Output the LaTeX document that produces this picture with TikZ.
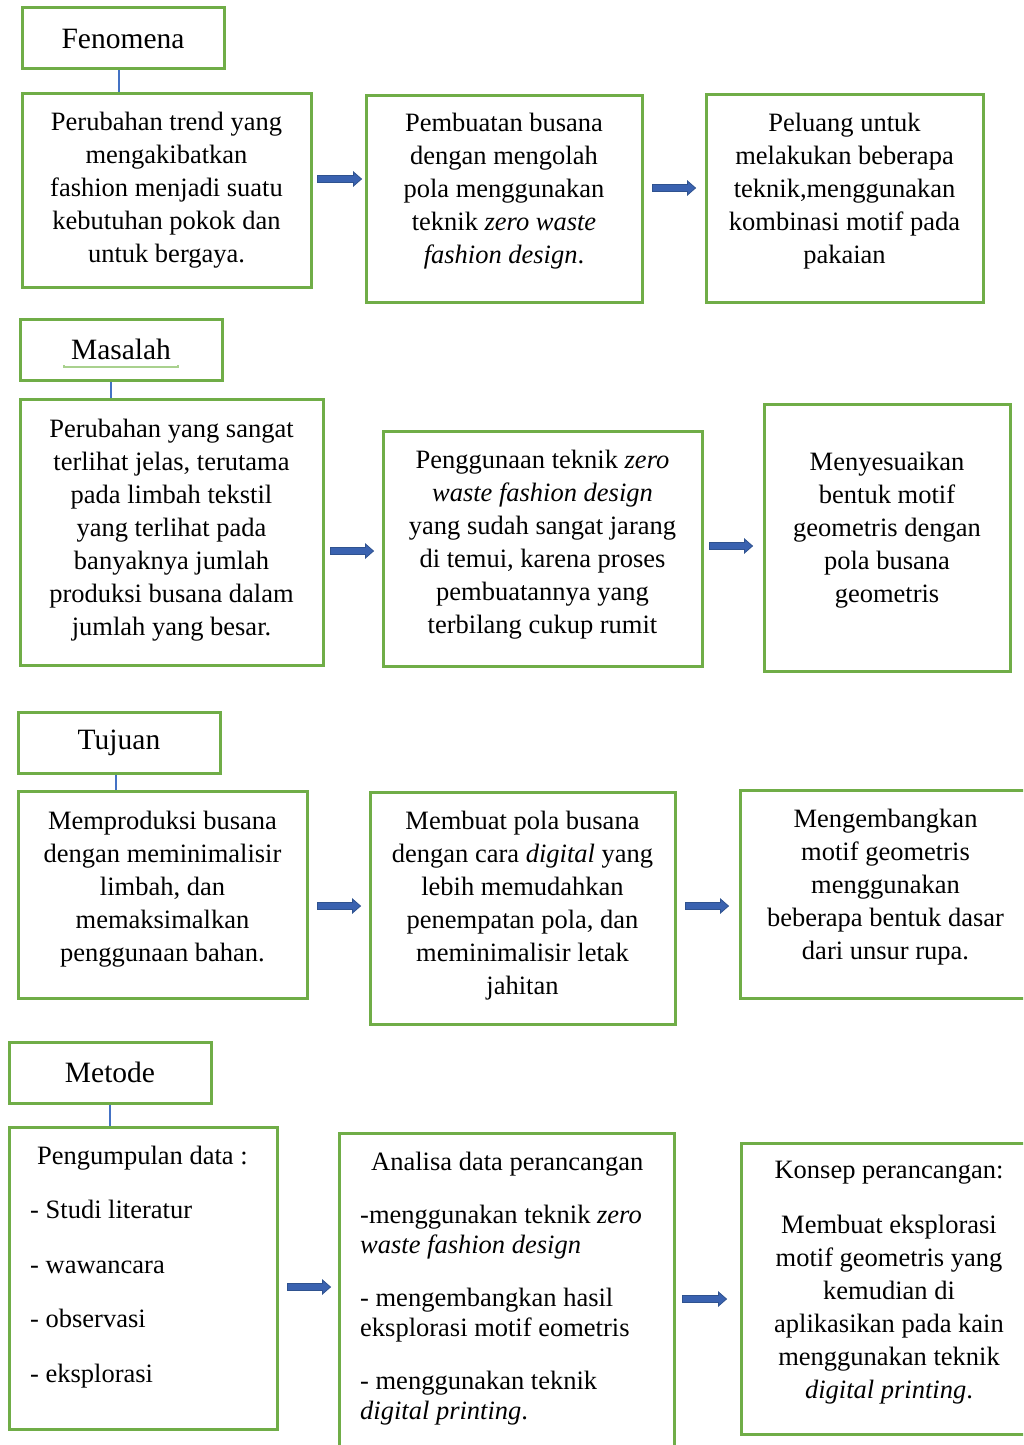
\documentclass[tikz,border=0pt]{standalone}
\usepackage{fontspec}
\setmainfont{Liberation Serif}
\usetikzlibrary{calc}
\definecolor{boxgreen}{HTML}{70AD47}
\definecolor{linkblue}{HTML}{4472C4}
\definecolor{arrfill}{HTML}{3A62B0}
\definecolor{arrdraw}{HTML}{2F528F}
\definecolor{ulgreen}{HTML}{A9D18E}
\tikzset{
  box/.style={draw=boxgreen, line width=3pt, rectangle, inner sep=0pt},
  txt/.style={font=\fontsize{26.5}{33}\selectfont, align=center, inner sep=0pt},
  head/.style={font=\fontsize{29.5}{35}\selectfont, inner sep=0pt},
  conn/.style={draw=linkblue, line width=1.2pt},
  blockarr/.style={fill=arrfill, draw=arrdraw, line width=0.8pt,
    to path={let \p1=(\tikztostart), \p2=(\tikztotarget) in
      (\x1,\y1+3.5pt) -- (\x2-8pt,\y1+3.5pt) -- (\x2-8pt,\y1+7pt) -- (\x2,\y1)
      -- (\x2-8pt,\y1-7pt) -- (\x2-8pt,\y1-3.5pt) -- (\x1,\y1-3.5pt) -- cycle}}
}
\begin{document}
\begin{tikzpicture}[x=1pt,y=-1pt]
\useasboundingbox (0,0) rectangle (1023,1445);
\fill[white] (0,0) rectangle (1023,1445);
\clip (0,0) rectangle (1023,1445);

% ---------- Fenomena ----------
\node[box, minimum width=202, minimum height=61] (fen) at (123,38.5) {};
\node[head] (fent) at (123,38.5) {Fenomena};
\node[box, minimum width=289, minimum height=194] (f1) at (166.5,190) {};
\node[box, minimum width=276, minimum height=207] (f2) at (504,198.5) {};
\node[box, minimum width=277, minimum height=208] (f3) at (844.5,198) {};
\node[txt] (f1t) at (166.5,190) {Perubahan trend yang\\ mengakibatkan\\ fashion menjadi suatu\\ kebutuhan pokok dan\\ untuk bergaya.};
\node[txt] (f2t) at (504,191.5) {Pembuatan busana\\ dengan mengolah\\ pola menggunakan\\ teknik \textit{zero waste}\\ \textit{fashion design}.};
\node[txt] (f3t) at (844.5,191.5) {Peluang untuk\\ melakukan beberapa\\ teknik,menggunakan\\ kombinasi motif pada\\ pakaian};
\draw[conn] ([xshift=-4pt]fen.south) -- ([xshift=-4pt]fen.south |- f1.north);
\path[blockarr] ([xshift=5pt,yshift=11pt]f1.east) to ([xshift=-3pt,yshift=11pt]f2.west);
\path[blockarr] ([xshift=9pt,yshift=10.5pt]f2.east) to ([xshift=-9pt,yshift=10.5pt]f3.west);

% ---------- Masalah ----------
\node[box, minimum width=202, minimum height=61] (mas) at (121,349.5) {};
\node[head] (mast) at (121,349.5) {Masalah};
\draw[ulgreen, line width=1.3pt] (64,365) -- (64,367) -- (178,367) -- (178,365);
\node[box, minimum width=303, minimum height=266] (m1) at (171.5,532) {};
\node[box, minimum width=319, minimum height=235] (m2) at (542.5,548.5) {};
\node[box, minimum width=246, minimum height=267] (m3) at (887,537.5) {};
\node[txt] (m1t) at (171.5,530) {Perubahan yang sangat\\ terlihat jelas, terutama\\ pada limbah tekstil\\ yang terlihat pada\\ banyaknya jumlah\\ produksi busana dalam\\ jumlah yang besar.};
\node[txt] (m2t) at (542.5,545) {Penggunaan teknik \textit{zero}\\ \textit{waste fashion design}\\ yang sudah sangat jarang\\ di temui, karena proses\\ pembuatannya yang\\ terbilang cukup rumit};
\node[txt] (m3t) at (887,530.5) {Menyesuaikan\\ bentuk motif\\ geometris dengan\\ pola busana\\ geometris};
\draw[conn] ([xshift=-10pt]mas.south) -- ([xshift=-10pt]mas.south |- m1.north);
\path[blockarr] ([xshift=6pt,yshift=-19pt]m1.east) to ([xshift=-8pt,yshift=-19pt]m2.west);
\path[blockarr] ([xshift=6pt,yshift=2.5pt]m2.east) to ([xshift=-10pt,yshift=2.5pt]m3.west);

% ---------- Tujuan ----------
\node[box, minimum width=202, minimum height=61] (tuj) at (119,742.5) {};
\node[head] (tujt) at (119,742.5) {Tujuan};
\node[box, minimum width=289, minimum height=207] (u1) at (162.5,894.5) {};
\node[box, minimum width=305, minimum height=232] (u2) at (522.5,908) {};
\node[box, minimum width=300, minimum height=208] (u3) at (890,894) {};
\node[txt] (u1t) at (162.5,889) {Memproduksi busana\\ dengan meminimalisir\\ limbah, dan\\ memaksimalkan\\ penggunaan bahan.};
\node[txt] (u2t) at (522.5,905.5) {Membuat pola busana\\ dengan cara \textit{digital} yang\\ lebih memudahkan\\ penempatan pola, dan\\ meminimalisir letak\\ jahitan};
\node[txt] (u3t) at (885.5,887.5) {Mengembangkan\\ motif geometris\\ menggunakan\\ beberapa bentuk dasar\\ dari unsur rupa.};
\draw[conn] ([xshift=-3pt]tuj.south) -- ([xshift=-3pt]tuj.south |- u1.north);
\path[blockarr] ([xshift=9pt,yshift=-11.5pt]u1.east) to ([xshift=-8pt,yshift=-11.5pt]u2.west);
\path[blockarr] ([xshift=9pt,yshift=2pt]u2.east) to ([xshift=-10pt,yshift=2pt]u3.west);

% ---------- Metode ----------
\node[box, minimum width=202, minimum height=61] (met) at (110,1072.5) {};
\node[head] (mett) at (110,1072.5) {Metode};
\node[box, minimum width=268, minimum height=302] (d1) at (143,1278) {};
\node[box, minimum width=335, minimum height=327] (d2) at (506.5,1296.5) {};
\node[box, minimum width=299, minimum height=291] (d3) at (890.5,1288.5) {};
\node[txt, align=left, anchor=west] (d1t) at (30,1267) {\hspace*{7pt}Pengumpulan data :\\[21.5pt] - Studi literatur\\[21.5pt] - wawancara\\[21.5pt] - observasi\\[21.5pt] - eksplorasi};
\node[txt, align=left, anchor=west, font=\fontsize{26.5}{30.5}\selectfont] (d2t) at (360,1289) {\hspace*{11pt}Analisa data perancangan\\[22pt] -menggunakan teknik \textit{zero}\\ \textit{waste fashion design}\\[22pt] - mengembangkan hasil\\ eksplorasi motif eometris\\[22pt] - menggunakan teknik\\ \textit{digital printing}.};
\node[txt] (d3t) at (889,1282.5) {Konsep perancangan:\\[22pt] Membuat eksplorasi\\ motif geometris yang\\ kemudian di\\ aplikasikan pada kain\\ menggunakan teknik\\ \textit{digital printing}.};
\draw[conn] (met.south) -- (met.south |- d1.north);
\path[blockarr] ([xshift=9pt,yshift=-9pt]d1.east) to ([xshift=-7pt,yshift=-9pt]d2.west);
\path[blockarr] ([xshift=7pt,yshift=-2.5pt]d2.east) to ([xshift=-13pt,yshift=-2.5pt]d3.west);
\end{tikzpicture}
\end{document}
